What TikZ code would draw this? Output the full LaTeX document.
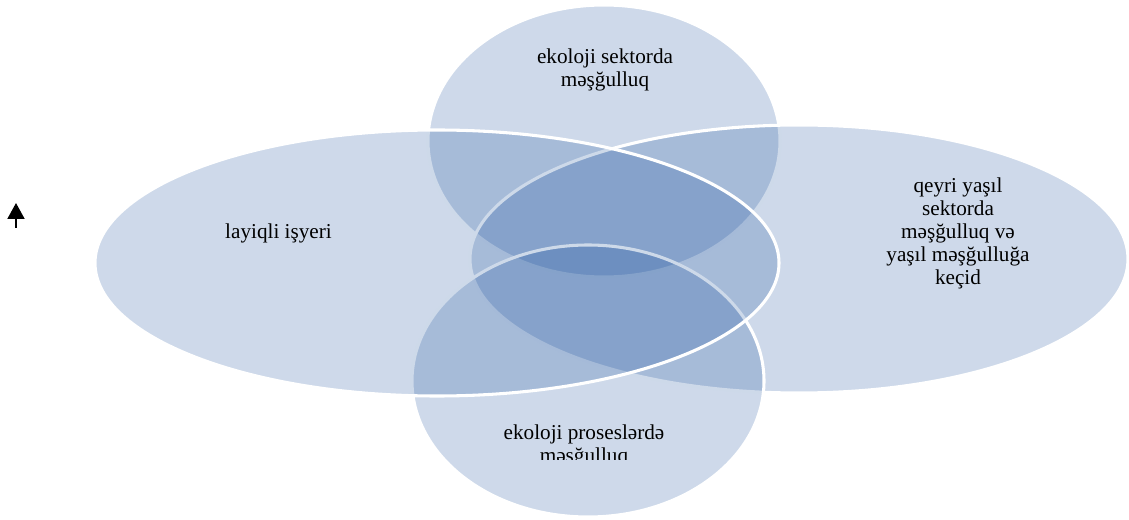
\documentclass[tikz,border=0pt]{standalone}
\usepackage{fontspec}
\setmainfont{Liberation Serif}
\usetikzlibrary{arrows.meta}
\definecolor{vennblue}{RGB}{8,66,148}
\tikzset{
  venn/.style={fill=vennblue, fill opacity=0.2, draw=white, line width=2.3pt},
  lbl/.style={align=center, inner sep=0pt, text=black,
    font=\fontsize{15.9pt}{17.25pt}\selectfont},
}
\begin{document}
\begin{tikzpicture}[x=0.75pt, y=-0.75pt]
  \useasboundingbox (0,0) rectangle (1129,520);

  % four overlapping circles of the diagram, painted back to front
  \draw[venn] (604,141) ellipse [x radius=176*0.75pt, y radius=136*0.75pt];
  \draw[venn] (799,259) ellipse [x radius=329*0.75pt, y radius=134*0.75pt];
  \draw[venn] (588,381) ellipse [x radius=176*0.75pt, y radius=136*0.75pt];
  \draw[venn] (437,263) ellipse [x radius=342*0.75pt, y radius=133*0.75pt];

  % labels
  \node[lbl] (top) at (605,70) {ekoloji sektorda\\məşğulluq};
  \node[lbl] (left) at (278.5,233) {layiqli işyeri};
  \node[lbl] (right) at (958,233) {qeyri yaşıl\\sektorda\\məşğulluq və\\yaşıl məşğulluğa\\keçid};
  \begin{scope}
    \clip (0,0) rectangle (1129,459.5);
    \node[lbl] (bottom) at (584,445.5) {ekoloji proseslərdə\\məşğulluq};
  \end{scope}

  % small up arrow on the left margin
  \coordinate (arrowfoot) at (16,228);
  \coordinate (arrowtip) at (16,203);
  \draw[line width=1.5pt, -{Triangle[width=12.75pt,length=12pt]}] (arrowfoot) -- (arrowtip);
\end{tikzpicture}
\end{document}
